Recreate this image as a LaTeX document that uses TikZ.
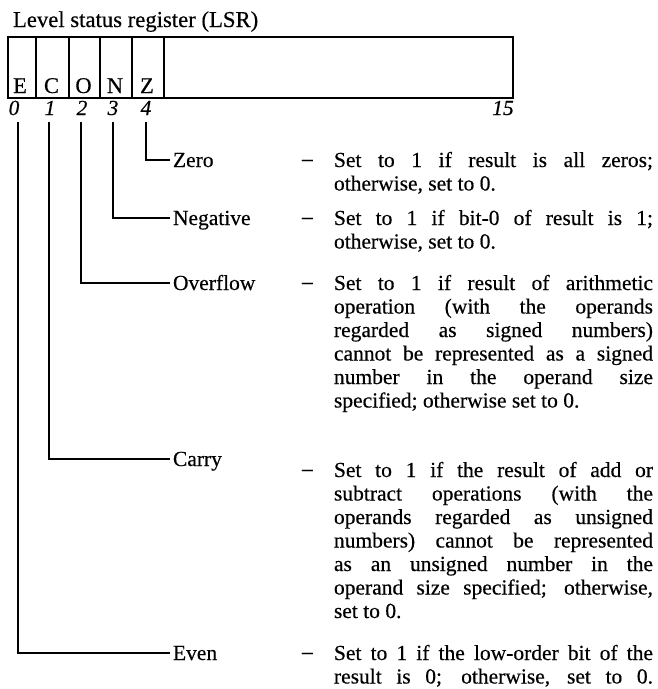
\documentclass[tikz,border=0pt]{standalone}
\usepackage{fontspec}
\setmainfont[FakeBold=0.4]{Liberation Serif}
\newcommand\fs{\fontsize{21.5}{23.5}\selectfont}
\newcommand\fullline[1]{\makebox[319pt][s]{#1}}
\begin{document}
\begin{tikzpicture}[x=1pt,y=-1pt,
  txt/.style={inner sep=0pt, outer sep=0pt, font=\fs},
  lbl/.style={txt, anchor=base west, text height=14pt, text depth=0pt},
  ln/.style={txt, anchor=base west},
  cell/.style={draw, line width=1.8pt, minimum height=61pt, inner sep=0pt, anchor=north west},
  letter/.style={txt, anchor=base, font=\fontsize{22.5}{24}\selectfont},
  lead/.style={line width=1.8pt, shorten >=3pt},
  bitno/.style={txt, anchor=base, font=\fs\itshape}]
\path[use as bounding box] (0,0) rectangle (658,689);

% title
\node[txt, anchor=base west, font=\fontsize{22.7}{24}\selectfont] (title) at (13,27) {Level status register (LSR)};

% register cells
\node[cell, minimum width=28pt] (cE) at (7,36) {};
\node[cell, minimum width=33pt] (cC) at (35,36) {};
\node[cell, minimum width=31pt] (cO) at (68,36) {};
\node[cell, minimum width=32pt] (cN) at (99,36) {};
\node[cell, minimum width=32pt] (cZ) at (131,36) {};
\node[cell, minimum width=349pt] (cR) at (163,36) {};

\node[letter] (lE) at (20,93) {E};
\node[letter] (lC) at (51.5,93) {C};
\node[letter] (lO) at (83.5,93) {O};
\node[letter] (lN) at (115,93) {N};
\node[letter] (lZ) at (147,93) {Z};

% bit numbers
\node[bitno] (b0) at (14,115) {0};
\node[bitno] (b1) at (50,115) {1};
\node[bitno] (b2) at (82,115) {2};
\node[bitno] (b3) at (113,115) {3};
\node[bitno] (b4) at (146,115) {4};
\node[bitno] (b15) at (503,115) {15};

% leader tops
\coordinate (tE) at (18,122);
\coordinate (tC) at (49,122);
\coordinate (tO) at (81,122);
\coordinate (tN) at (113,122);
\coordinate (tZ) at (146,122);

% labels
\node[lbl] (zero) at (173,167) {Zero};
\node[lbl] (neg) at (173,225) {Negative};
\node[lbl] (ovf) at (173,290) {Overflow};
\node[lbl] (car) at (173,466) {Carry};
\node[lbl] (even) at (173,660) {Even};

\draw[lead] (tZ) |- (zero.west);
\draw[lead] (tN) |- (neg.west);
\draw[lead] (tO) |- (ovf.west);
\draw[lead] (tC) |- (car.west);
\draw[lead] (tE) |- (even.west);

% dashes
\node[ln] (dZ) at (302,167) {\raisebox{1.5pt}{--}};
\node[ln] (dN) at (302,225) {\raisebox{1.5pt}{--}};
\node[ln] (dO) at (302,290) {\raisebox{1.5pt}{--}};
\node[ln] (dC) at (302,477) {\raisebox{1.5pt}{--}};
\node[ln] (dE) at (302,660) {\raisebox{1.5pt}{--}};

% descriptions
\node[ln] (z1) at (334,167) {\fullline{Set to 1 if result is all zeros;}};
\node[ln] (z2) at (334,190.5) {otherwise, set to 0.};

\node[ln] (n1) at (334,225) {\fullline{Set to 1 if bit-0 of result is 1;}};
\node[ln] (n2) at (334,248.5) {otherwise, set to 0.};

\node[ln] (o1) at (334,290) {\fullline{Set to 1 if result of arithmetic}};
\node[ln] (o2) at (334,313.5) {\fullline{operation (with the operands}};
\node[ln] (o3) at (334,337) {\fullline{regarded as signed numbers)}};
\node[ln] (o4) at (334,360.5) {\fullline{cannot be represented as a signed}};
\node[ln] (o5) at (334,384) {\fullline{number in the operand size}};
\node[ln] (o6) at (334,407.5) {specified; otherwise set to 0.};

\node[ln] (c1) at (334,477) {\fullline{Set to 1 if the result of add or}};
\node[ln] (c2) at (334,500.5) {\fullline{subtract operations (with the}};
\node[ln] (c3) at (334,524) {\fullline{operands regarded as unsigned}};
\node[ln] (c4) at (334,547.5) {\fullline{numbers) cannot be represented}};
\node[ln] (c5) at (334,571) {\fullline{as an unsigned number in the}};
\node[ln] (c6) at (334,594.5) {\fullline{operand size specified; otherwise,}};
\node[ln] (c7) at (334,618) {set to 0.};

\node[ln] (e1) at (334,660) {\fullline{Set to 1 if the low-order bit of the}};
\node[ln] (e2) at (334,683.5) {\fullline{result is 0; otherwise, set to 0.}};
\end{tikzpicture}
\end{document}
